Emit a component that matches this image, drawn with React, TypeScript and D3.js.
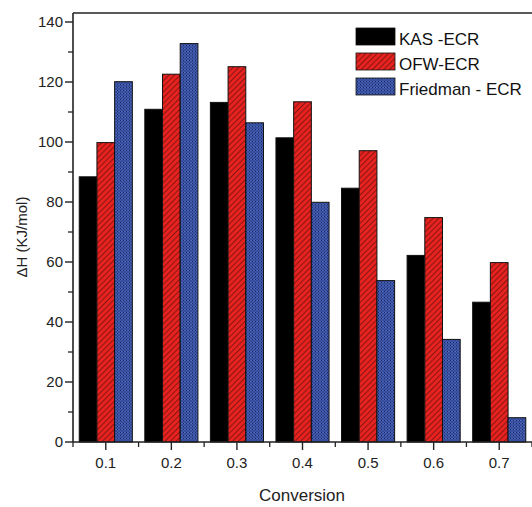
import React from "react";
import * as d3 from "d3";

// Conversion levels and activation enthalpy (kJ/mol) for each method
const conversions = [0.1, 0.2, 0.3, 0.4, 0.5, 0.6, 0.7];
const kasEcr = [88.4, 110.9, 113.2, 101.4, 84.6, 62.2, 46.6];
const ofwEcr = [99.8, 122.6, 125.1, 113.4, 97.1, 74.8, 59.8];
const friedmanEcr = [120.1, 132.8, 106.4, 79.9, 53.8, 34.2, 8.1];

const seriesNames = ["KAS -ECR", "OFW-ECR", "Friedman - ECR"];
const seriesFills = ["#000000", "url(#hatchRed)", "url(#dotBlue)"];

const yTicks = [0, 20, 40, 60, 80, 100, 120, 140];
const yMinorTicks = [10, 30, 50, 70, 90, 110, 130];
const xMinorTicks = [0.05, 0.15, 0.25, 0.35, 0.45, 0.55, 0.65, 0.75];

const W = 532;
const H = 507;
const left = 73;
const right = 532;
const top = 13;
const bottom = 442;

const FONT = "'Liberation Sans', Arial, sans-serif";

export default function App() {
  const x = d3.scaleLinear().domain([0.05, 0.75]).range([left, right]);
  const y = d3.scaleLinear().domain([0, 143]).range([bottom, top]);
  const barW = 17.7;
  const series = [kasEcr, ofwEcr, friedmanEcr];

  return (
    <svg
      width={W}
      height={H}
      style={{ position: "absolute", left: 0, top: 0, background: "#fff" }}
      fontFamily={FONT}
    >
      <defs>
        <pattern id="hatchRed" patternUnits="userSpaceOnUse" width="4" height="4" patternTransform="rotate(-45)">
          <rect width="4" height="4" fill="#e8221f" />
          <line x1="0" y1="0.5" x2="4" y2="0.5" stroke="#8a1714" strokeWidth="1.1" />
        </pattern>
        <pattern id="dotBlue" patternUnits="userSpaceOnUse" width="3" height="3">
          <rect width="3" height="3" fill="#3b55a8" />
          <rect x="0" y="0" width="1" height="1" fill="#1b2860" />
          <rect x="1.5" y="1.5" width="1" height="1" fill="#23367a" />
          <rect x="1.5" y="0" width="1" height="1" fill="#5a72c2" />
        </pattern>
      </defs>

      {/* bars */}
      {conversions.map((c, i) => (
        <g key={c}>
          {series.map((vals, s) => {
            const x0 = x(c) - 1.5 * barW + s * barW;
            return (
              <rect
                key={s}
                x={x0}
                y={y(vals[i])}
                width={barW}
                height={y(0) - y(vals[i])}
                fill={seriesFills[s]}
                stroke="#111"
                strokeWidth={1}
              />
            );
          })}
        </g>
      ))}

      {/* frame: left axis, top edge, bottom axis */}
      <line x1={left} y1={top} x2={right} y2={top} stroke="#222" strokeWidth={1.6} />
      <line x1={left} y1={top} x2={left} y2={bottom} stroke="#222" strokeWidth={1.6} />
      <line x1={left} y1={bottom} x2={right} y2={bottom} stroke="#222" strokeWidth={1.6} />

      {/* y axis ticks */}
      {yTicks.map((t) => (
        <g key={t}>
          <line x1={left - 8} x2={left} y1={y(t)} y2={y(t)} stroke="#222" strokeWidth={1.4} />
          <text x={left - 10} y={y(t)} dy="0.36em" textAnchor="end" fontSize={15} fill="#222">
            {t}
          </text>
        </g>
      ))}
      {yMinorTicks.map((t) => (
        <line key={t} x1={left - 5} x2={left} y1={y(t)} y2={y(t)} stroke="#222" strokeWidth={1.3} />
      ))}

      {/* x axis ticks */}
      {conversions.map((c) => (
        <g key={c}>
          <line x1={x(c)} x2={x(c)} y1={bottom} y2={bottom + 8} stroke="#222" strokeWidth={1.4} />
          <text x={x(c)} y={463} dy="0.36em" textAnchor="middle" fontSize={15} fill="#222">
            {c.toFixed(1)}
          </text>
        </g>
      ))}
      {xMinorTicks.map((c) => (
        <line key={c} x1={x(c)} x2={x(c)} y1={bottom} y2={bottom + 5} stroke="#222" strokeWidth={1.3} />
      ))}

      {/* axis titles */}
      <text x={302} y={495} dy="0.36em" textAnchor="middle" fontSize={17} fill="#222">
        Conversion
      </text>
      <text
        transform={`translate(22,237) rotate(-90)`}
        dy="0.36em"
        textAnchor="middle"
        fontSize={15}
        fill="#222"
      >
        ΔH (KJ/mol)
      </text>

      {/* legend */}
      {seriesNames.map((name, s) => {
        const ly = 28 + s * 25;
        return (
          <g key={name}>
            <rect x={356} y={ly} width={39} height={17} fill={seriesFills[s]} stroke="#111" strokeWidth={0.8} />
            <text x={399} y={ly + 17} fontSize={17} fill="#111">
              {name}
            </text>
          </g>
        );
      })}
    </svg>
  );
}
